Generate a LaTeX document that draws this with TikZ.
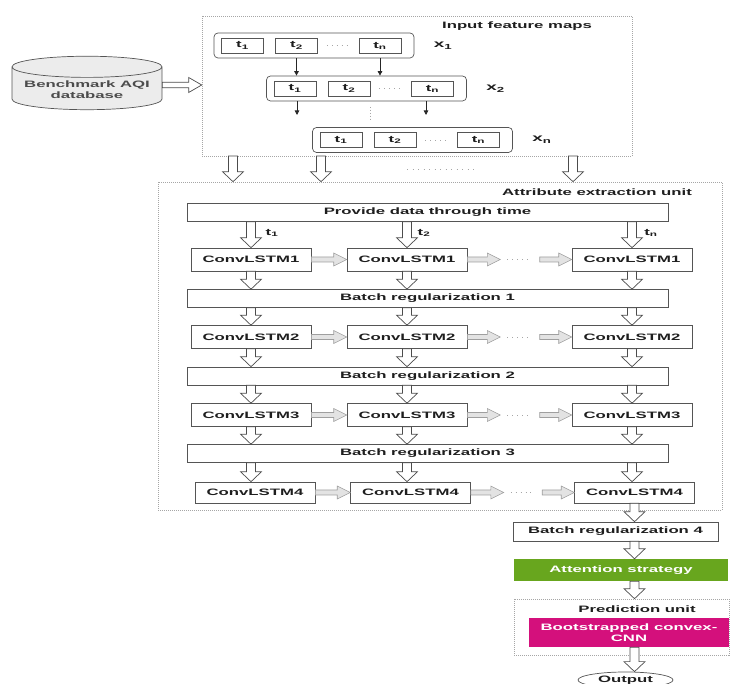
\documentclass[tikz,border=0pt]{standalone}
\usepackage{fontspec}
\setmainfont{Liberation Sans}[FakeStretch=1.8]
\usetikzlibrary{positioning,arrows.meta,calc,shapes.geometric}
\definecolor{textdark}{RGB}{30,30,30}
\definecolor{boxline}{RGB}{85,85,85}
\definecolor{attgreen}{RGB}{104,166,30}
\definecolor{cnnpink}{RGB}{212,16,124}
\tikzset{
  unitbox/.style={draw=gray!70, line width=0.6pt, dash pattern=on 1pt off 1pt, minimum width=#1},
  rowbox/.style={draw=boxline, rounded corners=4pt, line width=0.7pt, minimum width=200pt, minimum height=25pt},
  tbox/.style={draw=boxline, line width=0.8pt, minimum width=42pt, minimum height=15pt, inner sep=0pt},
  cellbox/.style={draw=boxline, fill=white, line width=0.6pt, minimum width=120pt, minimum height=23pt, inner sep=0pt},
  barbox/.style={draw=boxline, fill=white, line width=0.6pt, minimum width=481pt, minimum height=18pt, inner sep=0pt},
  maplabel/.style={font=\bfseries\fontsize{10.5}{12}\selectfont},
  thinarrow/.style={-{Triangle[length=4.5pt,width=4.5pt]}, line width=0.8pt, black!85},
  rowdots/.style={draw=gray!70, line width=0.9pt, dash pattern=on 0.9pt off 4pt},
  hollowdown/.style={draw=black!70, fill=white, line width=0.7pt,
    to path={($(\tikztostart)+(-4.5,0)$) -- ($(\tikztotarget)+(-4.5,10)$) -- ($(\tikztotarget)+(-10.5,10)$) -- (\tikztotarget)
      -- ($(\tikztotarget)+(10.5,10)$) -- ($(\tikztotarget)+(4.5,10)$) -- ($(\tikztostart)+(4.5,0)$) -- cycle}},
  hollowright/.style={draw=black!70, fill=white, line width=0.7pt,
    to path={($(\tikztostart)+(0,2.7)$) -- ($(\tikztotarget)+(-13,2.7)$) -- ($(\tikztotarget)+(-13,7.5)$) -- (\tikztotarget)
      -- ($(\tikztotarget)+(-13,-7.5)$) -- ($(\tikztotarget)+(-13,-2.7)$) -- ($(\tikztostart)+(0,-2.7)$) -- cycle}},
  greyright/.style={draw=gray!75, fill=gray!22, line width=0.6pt,
    to path={($(\tikztostart)+(0,2.5)$) -- ($(\tikztotarget)+(-13,2.5)$) -- ($(\tikztotarget)+(-13,6.5)$) -- (\tikztotarget)
      -- ($(\tikztotarget)+(-13,-6.5)$) -- ($(\tikztotarget)+(-13,-2.5)$) -- ($(\tikztostart)+(0,-2.5)$) -- cycle}}
}

\begin{document}
\begin{tikzpicture}[x=1pt, y=1pt, every node/.style={font=\bfseries\fontsize{9.3}{11}\selectfont, text=textdark}]
  \useasboundingbox (0,0) rectangle (731,684);
  % input feature maps
  \node[unitbox=430pt, minimum height=140pt] (inbox) at (417,598) {};
  \node (intitle) at (517,658) {Input feature maps};
  \node[rowbox] (r1) at (314,638.5) {};
  \node[tbox] (r1a) at (242.5,638.5) {t\textsubscript{1}};
  \node[tbox] (r1b) at (296.5,638.5) {t\textsubscript{2}};
  \node[tbox] (r1n) at (380,638.5) {t\textsubscript{n}};
  \node[maplabel, right=16pt of r1] (x1) {x\textsubscript{1}};
  \node[rowbox] (r2) at (366.5,595.5) {};
  \node[tbox] (r2a) at (295,595.5) {t\textsubscript{1}};
  \node[tbox] (r2b) at (349,595.5) {t\textsubscript{2}};
  \node[tbox] (r2n) at (432.5,595.5) {t\textsubscript{n}};
  \node[maplabel, right=16pt of r2] (x2) {x\textsubscript{2}};
  \node[rowbox] (rn) at (412.5,544) {};
  \node[tbox] (rna) at (341,544) {t\textsubscript{1}};
  \node[tbox] (rnb) at (395,544) {t\textsubscript{2}};
  \node[tbox] (rnn) at (478.5,544) {t\textsubscript{n}};
  \node[maplabel, right=16pt of rn] (xn) {x\textsubscript{n}};
  \draw[rowdots] ([xshift=9pt]r1b.east) -- ([xshift=-11pt]r1n.west);
  \draw[rowdots] ([xshift=9pt]r2b.east) -- ([xshift=-11pt]r2n.west);
  \draw[rowdots] ([xshift=9pt]rnb.east) -- ([xshift=-11pt]rnn.west);
  \draw[thinarrow] (r1b.south |- r1.south) -- (r1b.south |- r2.north);
  \draw[thinarrow] (r1n.south |- r1.south) -- (r1n.south |- r2.north);
  \coordinate (d1) at (297,569);
  \coordinate (d2) at (426,569);
  \draw[thinarrow] (d1 |- r2.south) -- (d1);
  \draw[thinarrow] (d2 |- r2.south) -- (d2);
  \draw[draw=gray!70, line width=0.9pt, dash pattern=on 0.9pt off 2pt] (370,577) -- (370,563);

  % database
  \node[cylinder, shape border rotate=90, aspect=0.16, draw=boxline, fill=gray!15, line width=0.7pt,
        minimum width=150pt, minimum height=50pt, align=center, text=black!70] (db) at (87,594) {Benchmark AQI\\database};
  \coordinate (dbout) at ([yshift=5pt]db.east);
  \draw[hollowright] (dbout) to (dbout -| inbox.west);

  % attribute extraction unit
  \node[unitbox=564pt, minimum height=328pt] (attbox) at (440,338) {};
  \node (atttitle) at (597,492) {Attribute extraction unit};
  \coordinate (a1) at (233,528);
  \coordinate (a2) at (321,528);
  \coordinate (a3) at (573,528);
  \draw[hollowdown] (a1) to (a1 |- attbox.north);
  \draw[hollowdown] (a2) to (a2 |- attbox.north);
  \draw[hollowdown] (a3) to (a3 |- attbox.north);
  \draw[draw=gray!70, line width=0.9pt, dash pattern=on 0.9pt off 4.6pt] (407,515) -- (478,515);

  \node[barbox] (feed) at (427.5,471.5) {Provide data through time};
  \node[cellbox] (c11) at (251,424.5) {ConvLSTM1};
  \node[cellbox] (c12) at (407,424.5) {ConvLSTM1};
  \node[cellbox] (c13) at (632,424.5) {ConvLSTM1};
  \node[barbox] (b1) at (427.5,385.5) {Batch regularization 1};
  \node[cellbox] (c21) at (251,347) {ConvLSTM2};
  \node[cellbox] (c22) at (407,347) {ConvLSTM2};
  \node[cellbox] (c23) at (632,347) {ConvLSTM2};
  \node[barbox] (b2) at (427.5,308) {Batch regularization 2};
  \node[cellbox] (c31) at (251,269) {ConvLSTM3};
  \node[cellbox] (c32) at (407,269) {ConvLSTM3};
  \node[cellbox] (c33) at (632,269) {ConvLSTM3};
  \node[barbox] (b3) at (427.5,230.5) {Batch regularization 3};
  \node[cellbox, minimum height=21pt] (c41) at (255,191.5) {ConvLSTM4};
  \node[cellbox, minimum height=21pt] (c42) at (410.5,191.5) {ConvLSTM4};
  \node[cellbox, minimum height=21pt] (c43) at (634.5,191.5) {ConvLSTM4};

  \node (tl1) at (272,451) {t\textsubscript{1}};
  \node (tl2) at (424,451) {t\textsubscript{2}};
  \node (tln) at (651,451) {t\textsubscript{n}};

  % time steps feeding down
  \draw[hollowdown] (c11.north |- feed.south) to (c11.north);
  \draw[hollowdown] (c12.north |- feed.south) to (c12.north);
  \draw[hollowdown] (c13.north |- feed.south) to (c13.north);
  \draw[hollowdown] (c11.south) to (c11.south |- b1.north);
  \draw[hollowdown] (c12.south) to (c12.south |- b1.north);
  \draw[hollowdown] (c13.south) to (c13.south |- b1.north);
  \draw[hollowdown] (c21.north |- b1.south) to (c21.north);
  \draw[hollowdown] (c22.north |- b1.south) to (c22.north);
  \draw[hollowdown] (c23.north |- b1.south) to (c23.north);
  \draw[hollowdown] (c21.south) to (c21.south |- b2.north);
  \draw[hollowdown] (c22.south) to (c22.south |- b2.north);
  \draw[hollowdown] (c23.south) to (c23.south |- b2.north);
  \draw[hollowdown] (c31.north |- b2.south) to (c31.north);
  \draw[hollowdown] (c32.north |- b2.south) to (c32.north);
  \draw[hollowdown] (c33.north |- b2.south) to (c33.north);
  \draw[hollowdown] (c31.south) to (c31.south |- b3.north);
  \draw[hollowdown] (c32.south) to (c32.south |- b3.north);
  \draw[hollowdown] (c33.south) to (c33.south |- b3.north);
  \draw[hollowdown] (c31.south |- b3.south) to (c31.south |- c41.north);
  \draw[hollowdown] (c32.south |- b3.south) to (c32.south |- c42.north);
  \draw[hollowdown] (c33.south |- b3.south) to (c33.south |- c43.north);

  % recurrent links
  \draw[greyright] (c11.east) to (c12.west);
  \coordinate (g1a) at ($(c12.east)+(33,0)$);
  \coordinate (g1b) at ($(c13.west)+(-32,0)$);
  \draw[greyright] (c12.east) to (g1a);
  \draw[greyright] (g1b) to (c13.west);
  \draw[rowdots] ($(g1a)+(7,0)$) -- ($(g1b)+(-8,0)$);
  \draw[greyright] (c21.east) to (c22.west);
  \coordinate (g2a) at ($(c22.east)+(33,0)$);
  \coordinate (g2b) at ($(c23.west)+(-32,0)$);
  \draw[greyright] (c22.east) to (g2a);
  \draw[greyright] (g2b) to (c23.west);
  \draw[rowdots] ($(g2a)+(7,0)$) -- ($(g2b)+(-8,0)$);
  \draw[greyright] (c31.east) to (c32.west);
  \coordinate (g3a) at ($(c32.east)+(33,0)$);
  \coordinate (g3b) at ($(c33.west)+(-32,0)$);
  \draw[greyright] (c32.east) to (g3a);
  \draw[greyright] (g3b) to (c33.west);
  \draw[rowdots] ($(g3a)+(7,0)$) -- ($(g3b)+(-8,0)$);
  \draw[greyright] (c41.east) to (c42.west);
  \coordinate (g4a) at ($(c42.east)+(33,0)$);
  \coordinate (g4b) at ($(c43.west)+(-32,0)$);
  \draw[greyright] (c42.east) to (g4a);
  \draw[greyright] (g4b) to (c43.west);
  \draw[rowdots] ($(g4a)+(7,0)$) -- ($(g4b)+(-8,0)$);

  % output side
  \node[barbox, minimum width=205pt, minimum height=19pt] (b4) at (615.5,152.5) {Batch regularization 4};
  \node[fill=attgreen, text=white, minimum width=214pt, minimum height=22pt, inner sep=0pt] (att) at (621,114) {Attention strategy};
  \node[unitbox=215pt, minimum height=56pt] (predbox) at (621.5,57) {};
  \node (predtitle) at (637,75) {Prediction unit};
  \node[fill=cnnpink, text=white, minimum width=200pt, minimum height=29pt, inner sep=0pt, align=center] (cnn) at (629,51.5) {Bootstrapped convex-\\CNN};
  \node[ellipse, draw=boxline, line width=0.7pt, minimum width=95pt, minimum height=16pt, inner sep=1pt] (out) at (625.5,4) {Output};
  \draw[hollowdown] (c43.south) to (c43.south |- b4.north);
  \draw[hollowdown] (c43.south |- b4.south) to (c43.south |- att.north);
  \draw[hollowdown] (c43.south |- att.south) to (c43.south |- predbox.north);
  \draw[hollowdown] (c43.south |- cnn.south) to (c43.south |- out.north);
\end{tikzpicture}
\end{document}
